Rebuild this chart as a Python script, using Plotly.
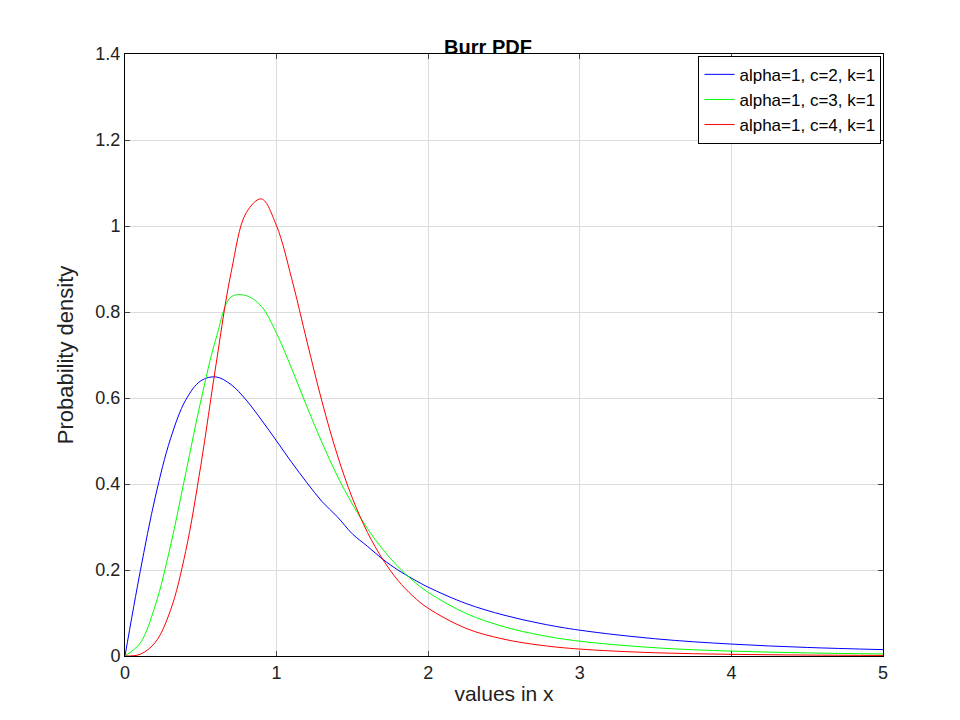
import plotly.graph_objects as go

x = [0,0.1,0.2,0.3,0.4,0.5,0.6,0.7,0.8,0.9,1.0,1.1,1.2,1.3,1.4,1.5,1.6,1.7,1.8,1.9,2.0,2.25,2.5,2.75,3.0,3.5,4.0,4.5,5.0]
y_c2 = [0,0.196,0.370,0.505,0.595,0.640,0.649,0.631,0.595,0.549,0.500,0.450,0.403,0.359,0.324,0.284,0.255,0.225,0.200,0.179,0.160,0.122,0.095,0.075,0.060,0.040,0.0277,0.0199,0.0148]
y_c3 = [0,0.030,0.118,0.256,0.424,0.593,0.738,0.835,0.838,0.813,0.750,0.668,0.580,0.496,0.419,0.353,0.296,0.248,0.208,0.175,0.148,0.099,0.068,0.0478,0.0344,0.0191,0.0114,0.0072,0.0047]
y_c4 = [0,0.004,0.0319,0.106,0.243,0.443,0.677,0.892,1.031,1.063,1.000,0.877,0.732,0.591,0.468,0.367,0.287,0.225,0.176,0.139,0.111,0.0642,0.039,0.0246,0.0161,0.0075,0.0039,0.0022,0.0013]
names = ["alpha=1, c=2, k=1","alpha=1, c=3, k=1","alpha=1, c=4, k=1"]
colors = ["#0000ff","#00ff00","#ff0000"]

fig = go.Figure()
for yy, n, c in zip([y_c2,y_c3,y_c4], names, colors):
    fig.add_trace(go.Scatter(x=x, y=yy, name=n, mode="lines",
                             line=dict(color=c, width=1, shape="spline", smoothing=1.0)))

ax = dict(showline=True, linecolor="black", mirror="ticks", ticks="inside", ticklen=5,
          showgrid=True, gridcolor="#dcdcdc", zeroline=False,
          tickfont=dict(size=18, color="#222"))
fig.update_layout(
    width=960, height=720, plot_bgcolor="white", paper_bgcolor="white",
    font=dict(family="Liberation Sans, Arial, sans-serif", color="#222"),
    margin=dict(l=117, r=85, t=46, b=72),
    title=dict(text="<b>Burr PDF</b>", x=0.5, xanchor="center", y=0.955, font=dict(size=20, color="black")),
    xaxis=dict(ax, range=[0,5], dtick=1, title=dict(text="values in x", font=dict(size=21), standoff=4)),
    yaxis=dict(ax, range=[0,1.4], title=dict(text="Probability density", font=dict(size=22)),
               tickvals=[0,0.2,0.4,0.6,0.8,1,1.2,1.4], ticktext=["0","0.2","0.4","0.6","0.8","1","1.2","1.4"]),
    legend=dict(x=0.998, y=0.997, xanchor="right", yanchor="top", bgcolor="white",
                bordercolor="black", borderwidth=1, font=dict(size=17, color="black"),
                tracegroupgap=0),
    showlegend=True,
)
fig.write_html("out.html")
